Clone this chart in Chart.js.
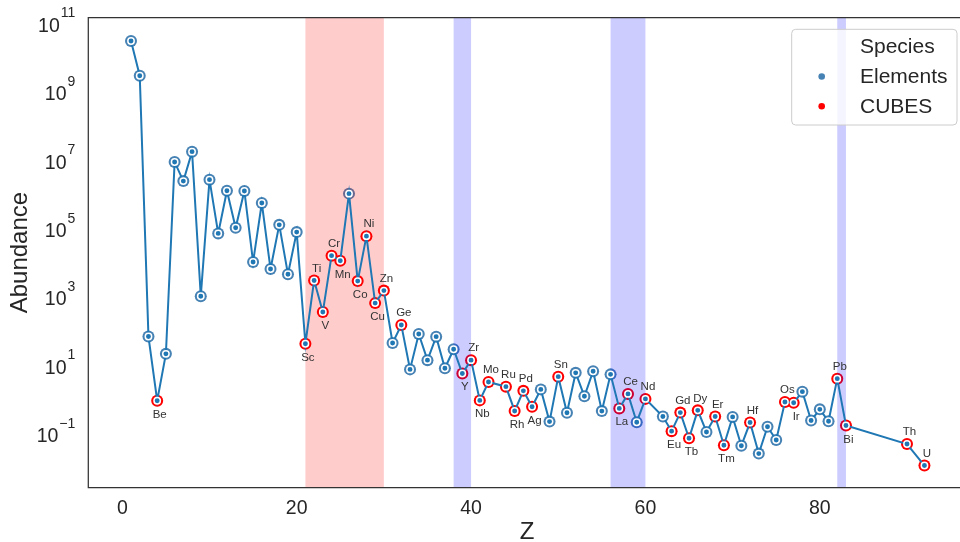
<!DOCTYPE html>
<html>
<head>
<meta charset="utf-8">
<script src="https://cdn.jsdelivr.net/npm/chart.js@4.4.0/dist/chart.umd.min.js"></script>
<style>
  html, body { margin: 0; padding: 0; background: #fff; overflow: hidden; }
  canvas { display: block; }
</style>
</head>
<body>
<canvas id="chart" width="960" height="542"></canvas>
<script>
// Solar system abundances (Si = 1e6) against atomic number Z
const zValues = [1, 2, 3, 4, 5, 6, 7, 8, 9, 10, 11, 12, 13, 14, 15, 16, 17, 18, 19, 20,
  21, 22, 23, 24, 25, 26, 27, 28, 29, 30, 31, 32, 33, 34, 35, 36, 37, 38, 39, 40, 41, 42,
  44, 45, 46, 47, 48, 49, 50, 51, 52, 53, 54, 55, 56, 57, 58, 59, 60,
  62, 63, 64, 65, 66, 67, 68, 69, 70, 71, 72, 73, 74, 75, 76, 77, 78, 79, 80, 81, 82, 83,
  90, 92];
const symbols = ['H', 'He', 'Li', 'Be', 'B', 'C', 'N', 'O', 'F', 'Ne', 'Na', 'Mg', 'Al', 'Si', 'P', 'S', 'Cl', 'Ar', 'K', 'Ca',
  'Sc', 'Ti', 'V', 'Cr', 'Mn', 'Fe', 'Co', 'Ni', 'Cu', 'Zn', 'Ga', 'Ge', 'As', 'Se', 'Br', 'Kr', 'Rb', 'Sr', 'Y', 'Zr', 'Nb', 'Mo',
  'Ru', 'Rh', 'Pd', 'Ag', 'Cd', 'In', 'Sn', 'Sb', 'Te', 'I', 'Xe', 'Cs', 'Ba', 'La', 'Ce', 'Pr', 'Nd',
  'Sm', 'Eu', 'Gd', 'Tb', 'Dy', 'Ho', 'Er', 'Tm', 'Yb', 'Lu', 'Hf', 'Ta', 'W', 'Re', 'Os', 'Ir', 'Pt', 'Au', 'Hg', 'Tl', 'Pb', 'Bi',
  'Th', 'U'];
const abundances = [2.431e10, 2.343e9, 55.47, 0.7374, 17.32, 7.079e6, 1.95e6, 1.413e7, 841.1, 2.148e6,
  57510, 1.02e6, 84100, 1.0e6, 8373, 4.449e5, 5237, 1.025e5, 3692, 62870,
  34.2, 2422, 288.4, 12860, 9168, 8.38e5, 2323, 47800, 527, 1226,
  35.97, 120.6, 6.089, 65.79, 11.32, 55.15, 6.572, 23.64, 4.608, 11.33, 0.7554, 2.601,
  1.9, 0.3708, 1.435, 0.4913, 1.584, 0.181, 3.733, 0.3292, 4.815, 0.9975, 5.391, 0.3671, 4.351, 0.4405, 1.169, 0.1737, 0.8355,
  0.2542, 0.09513, 0.3321, 0.05907, 0.3862, 0.08986, 0.2554, 0.037, 0.2484, 0.03572, 0.1699, 0.02099, 0.1277, 0.05254,
  0.6738, 0.6448, 1.357, 0.1955, 0.4128, 0.1845, 3.258, 0.1388,
  0.040, 0.0094];

// elements covered by CUBES (red + labelled)
const cubesElements = ['Be', 'Sc', 'Ti', 'V', 'Cr', 'Mn', 'Co', 'Ni', 'Cu', 'Zn', 'Ge', 'Y', 'Zr', 'Nb', 'Mo', 'Ru', 'Rh', 'Pd', 'Ag',
  'Sn', 'La', 'Ce', 'Nd', 'Eu', 'Gd', 'Tb', 'Dy', 'Er', 'Tm', 'Hf', 'Os', 'Ir', 'Pb', 'Bi', 'Th', 'U'];
const labelsBelow = ['Be', 'Sc', 'V', 'Mn', 'Co', 'Cu', 'Y', 'Nb', 'Rh', 'Ag', 'La', 'Eu', 'Tb', 'Tm', 'Ir', 'Bi'];

// shaded Z ranges
const redBands = [[21, 30]];
const blueBands = [[38, 40], [56, 60], [82, 83]];

const xTicks = [0, 20, 40, 60, 80];
const yTickExponents = [-1, 1, 3, 5, 7, 9, 11];
const legendTitle = 'Species';
const legendItems = ['Elements', 'CUBES'];

const FONT = "'Liberation Sans', Arial, sans-serif";
const TEXT = '#262626';

const points = zValues.map((z, i) => ({ x: z, y: abundances[i] }));
const markerColors = symbols.map(s => cubesElements.includes(s) ? '#ff0000' : '#4682b4');

const decorations = {
  id: 'decorations',
  afterDatasetDraw(chart, args) {
    if (args.index !== 0) return;
    // spans go over the big markers but under the line
    const { ctx, chartArea: a, scales: { x } } = chart;
    ctx.save();
    ctx.fillStyle = 'rgba(255, 0, 0, 0.2)';
    redBands.forEach(([z0, z1]) => {
      const x0 = x.getPixelForValue(z0), x1 = x.getPixelForValue(z1);
      ctx.fillRect(x0, a.top, x1 - x0, a.bottom - a.top);
    });
    ctx.fillStyle = 'rgba(0, 0, 255, 0.2)';
    blueBands.forEach(([z0, z1]) => {
      const x0 = x.getPixelForValue(z0), x1 = x.getPixelForValue(z1);
      ctx.fillRect(x0, a.top, x1 - x0, a.bottom - a.top);
    });
    ctx.restore();
  },
  afterDatasetsDraw(chart) {
    const { ctx, scales: { x, y } } = chart;
    ctx.save();
    ctx.font = '11.5px ' + FONT;
    ctx.fillStyle = '#333';
    ctx.textAlign = 'center';
    ctx.textBaseline = 'middle';
    symbols.forEach((s, i) => {
      if (!cubesElements.includes(s)) return;
      const px = x.getPixelForValue(zValues[i]) + 2.5;
      const py = y.getPixelForValue(abundances[i]);
      ctx.fillText(s, px, labelsBelow.includes(s) ? py + 13.8 : py - 12);
    });
    ctx.restore();
  },
  afterDraw(chart) {
    const { ctx, chartArea: a, scales: { x, y } } = chart;
    ctx.save();

    // spines (right one is off the page)
    ctx.strokeStyle = '#333';
    ctx.lineWidth = 1.25;
    ctx.beginPath();
    ctx.moveTo(chart.width, a.top);
    ctx.lineTo(a.left, a.top);
    ctx.lineTo(a.left, a.bottom);
    ctx.lineTo(chart.width, a.bottom);
    ctx.stroke();

    // x ticks
    ctx.fillStyle = TEXT;
    ctx.font = '19.5px ' + FONT;
    ctx.textAlign = 'center';
    ctx.textBaseline = 'alphabetic';
    xTicks.forEach(t => ctx.fillText(String(t), x.getPixelForValue(t), a.bottom + 26.5));

    // y ticks as 10 with superscript
    yTickExponents.forEach(e => {
      const py = y.getPixelForValue(Math.pow(10, e));
      const exp = String(e).replace('-', '\u2212');
      ctx.textAlign = 'right';
      ctx.font = '14px ' + FONT;
      const right = a.left - 13;
      ctx.fillText(exp, right, py - 2.7);
      const w = ctx.measureText(exp).width;
      ctx.font = '19.5px ' + FONT;
      ctx.fillText('10', right - w - 1, py + 11.7);
    });

    // axis titles
    ctx.font = '24px ' + FONT;
    ctx.textAlign = 'center';
    ctx.fillText('Z', 527, a.bottom + 51.6);
    ctx.save();
    ctx.translate(26.7, (a.top + a.bottom) / 2);
    ctx.rotate(-Math.PI / 2);
    ctx.fillText('Abundance', 0, 0);
    ctx.restore();

    // legend box
    const lx = 791.7, ly = 29.3, lw = 165.3, lh = 95.7, r = 4;
    ctx.beginPath();
    ctx.moveTo(lx + r, ly);
    ctx.arcTo(lx + lw, ly, lx + lw, ly + lh, r);
    ctx.arcTo(lx + lw, ly + lh, lx, ly + lh, r);
    ctx.arcTo(lx, ly + lh, lx, ly, r);
    ctx.arcTo(lx, ly, lx + lw, ly, r);
    ctx.closePath();
    ctx.fillStyle = 'rgba(255, 255, 255, 0.8)';
    ctx.fill();
    ctx.strokeStyle = '#cccccc';
    ctx.lineWidth = 1;
    ctx.stroke();

    ctx.font = '21px ' + FONT;
    ctx.textAlign = 'left';
    ctx.fillStyle = TEXT;
    ctx.fillText(legendTitle, 860, 52.5);
    const legendColors = ['#4682b4', '#ff0000'];
    legendItems.forEach((item, i) => {
      const base = 83 + i * 29.8;
      ctx.fillStyle = legendColors[i];
      ctx.beginPath();
      ctx.arc(821.7, base - 6.5, 3.3, 0, Math.PI * 2);
      ctx.fill();
      ctx.fillStyle = TEXT;
      ctx.fillText(item, 860, base);
    });
    ctx.restore();
  }
};

new Chart(document.getElementById('chart'), {
  type: 'scatter',
  data: {
    datasets: [{
      label: 'Elements',
      data: points,
      order: 2,
      pointRadius: 6,
      pointBackgroundColor: markerColors,
      pointBorderWidth: 0
    }, {
      type: 'line',
      label: 'line',
      data: points,
      order: 1,
      borderColor: '#1f77b4',
      borderWidth: 2,
      tension: 0,
      pointRadius: 3.2,
      pointBackgroundColor: '#1f77b4',
      pointBorderColor: '#ffffff',
      pointBorderWidth: 1.5
    }]
  },
  options: {
    responsive: false,
    animation: false,
    events: [],
    layout: { padding: { left: 88.3, top: 17.5, right: 0, bottom: 54.3 } },
    plugins: { legend: { display: false }, tooltip: { enabled: false } },
    scales: {
      // the page cuts the plot on the right, so the axis runs past the canvas edge
      x: { type: 'linear', min: -3.9, max: 95.39, display: false },
      y: { type: 'logarithmic', min: 0.002113, max: 1.183e11, display: false }
    }
  },
  plugins: [decorations]
});
</script>
</body>
</html>
